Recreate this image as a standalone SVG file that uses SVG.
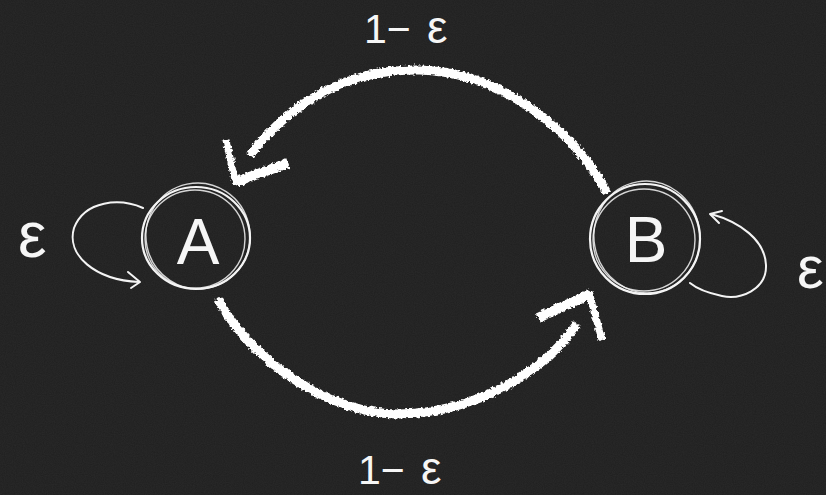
<svg xmlns="http://www.w3.org/2000/svg" width="826" height="495" viewBox="0 0 826 495">
  <defs>
    <!-- rough chalk edge for the heavy strokes -->
    <filter id="chalk" x="-10%" y="-10%" width="120%" height="120%">
      <feTurbulence type="fractalNoise" baseFrequency="0.35" numOctaves="2" seed="3" result="n"/>
      <feDisplacementMap in="SourceGraphic" in2="n" scale="5" xChannelSelector="R" yChannelSelector="G"/>
    </filter>
    <filter id="board" x="0" y="0" width="100%" height="100%">
      <feTurbulence type="fractalNoise" baseFrequency="0.9" numOctaves="2" seed="7" result="t"/>
      <feColorMatrix in="t" type="matrix" values="0 0 0 0 0.2  0 0 0 0 0.2  0 0 0 0 0.2  0 0 0 0.12 0"/>
    </filter>
  </defs>
  <style>
    .ring { fill: none; stroke: #f4f4f4; stroke-width: 2.2; }
    .ring2 { fill: none; stroke: #f4f4f4; stroke-width: 1.4; opacity: 0.85; }
    .heavy { fill: none; stroke: #ffffff; stroke-linecap: butt; stroke-linejoin: miter; }
    .thin { fill: none; stroke: #f4f4f4; stroke-width: 2; stroke-linecap: round; stroke-linejoin: round; }
    .lbl { font-family: "Liberation Sans", "DejaVu Sans", sans-serif; fill: #f6f6f6; }
  </style>

  <rect width="826" height="495" fill="#1f1f1f"/>
  <rect width="826" height="495" filter="url(#board)"/>

  <!-- node A -->
  <g id="node-A">
    <ellipse class="ring" cx="196" cy="238" rx="54" ry="51"/>
    <ellipse class="ring2" cx="198" cy="236" rx="52" ry="53" transform="rotate(-12 198 236)"/>
    <ellipse class="ring2" cx="195" cy="239" rx="50" ry="49"/>
    <text class="lbl" x="198" y="264" font-size="64" text-anchor="middle">A</text>
  </g>

  <!-- node B -->
  <g id="node-B">
    <ellipse class="ring" cx="645" cy="239" rx="55" ry="55"/>
    <ellipse class="ring2" cx="647" cy="237" rx="53" ry="56" transform="rotate(-10 647 237)"/>
    <ellipse class="ring2" cx="644" cy="240" rx="51" ry="51"/>
    <text class="lbl" x="646" y="262" font-size="64" text-anchor="middle">B</text>
  </g>

  <!-- transitions -->
  <g id="connectors">
    <!-- B to A, upper arc -->
    <g filter="url(#chalk)">
      <path class="heavy" stroke-width="9" d="M607,193 C575,130 500,72 420,70 C340,68 285,110 250,155"/>
      <path class="heavy" stroke-width="10" d="M288,163 L236,182"/>
      <path class="heavy" stroke-width="7" d="M236,184 L226,140"/>
    </g>
    <!-- A to B, lower arc -->
    <g filter="url(#chalk)">
      <path class="heavy" stroke-width="9" d="M218,299 C250,360 330,415 400,414 C480,412 545,370 577,324"/>
      <path class="heavy" stroke-width="10" d="M538,318 L590,294"/>
      <path class="heavy" stroke-width="7" d="M589,292 L602,340"/>
    </g>
    <!-- A self loop -->
    <path class="thin" d="M143,208 C120,198 85,200 74,228 C66,255 95,280 139,282"/>
    <path class="thin" d="M128,272 L140,282 L131,288"/>
    <!-- B self loop -->
    <path class="thin" d="M711,214 C740,222 765,240 766,265 C767,290 740,300 722,296 C708,293 696,288 690,283"/>
    <path class="thin" d="M722,211 L710,214 L719,223"/>
  </g>

  <!-- transition labels -->
  <text class="lbl" x="18" y="257" font-size="64">ε</text>
  <text class="lbl" x="797" y="288" font-size="60">ε</text>
  <text class="lbl" y="43" font-size="46"><tspan x="364" font-size="41">1−</tspan><tspan x="427">ε</tspan></text>
  <text class="lbl" y="484" font-size="46"><tspan x="358" font-size="41">1−</tspan><tspan x="421">ε</tspan></text>
</svg>
